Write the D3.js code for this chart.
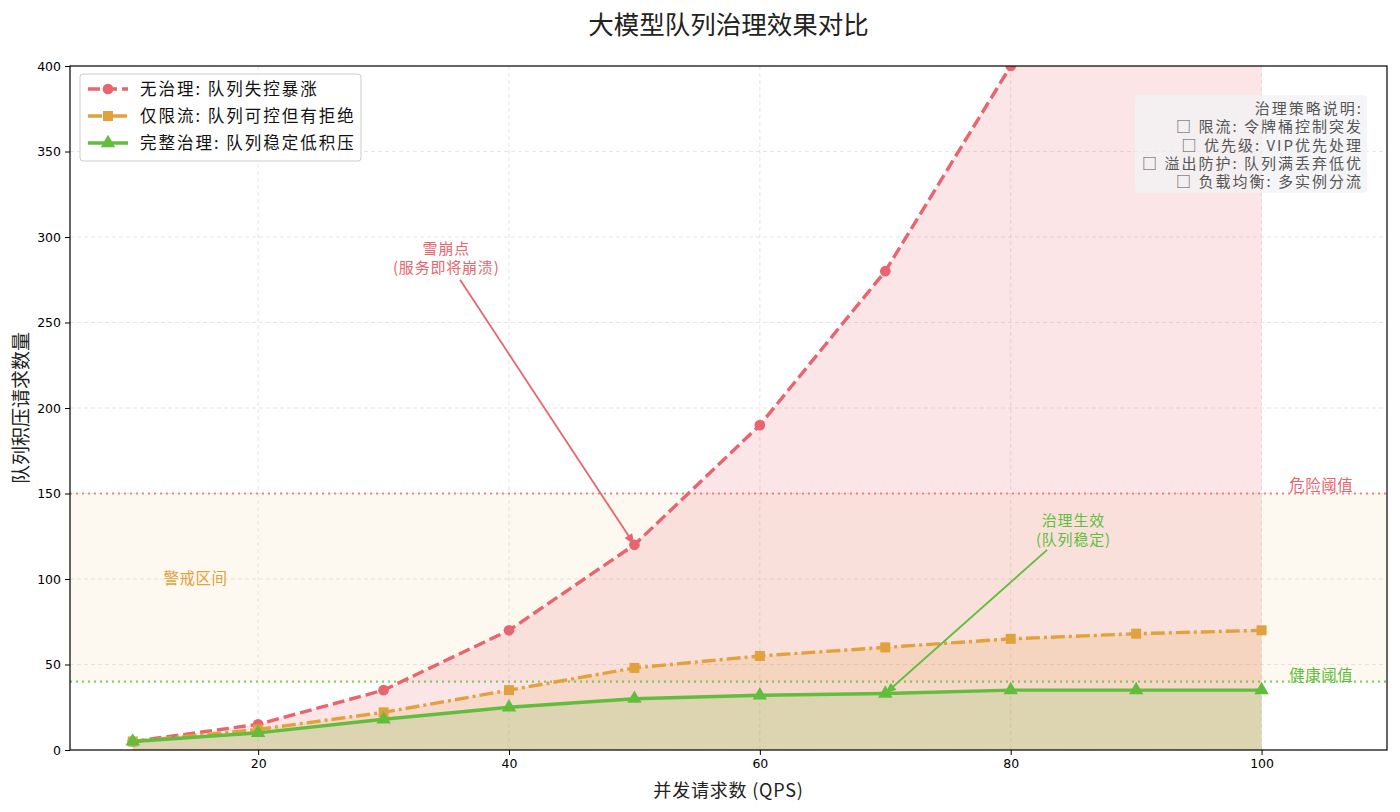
<!DOCTYPE html>
<html>
<head>
<meta charset="utf-8">
<script src="https://cdn.jsdelivr.net/npm/d3@7"></script>
<style>
  body { margin: 0; background: #fff; }
  text { font-family: "Noto Sans CJK SC", "DejaVu Sans", sans-serif; }
</style>
</head>
<body>
<script>
(function () {
    "use strict";

    // data
    var qps = [10, 20, 30, 40, 50, 60, 70, 80, 90, 100];
    var noGovern = [5, 15, 35, 70, 120, 190, 280, 400, 550, 750];
    var rateLimitOnly = [5, 12, 22, 35, 48, 55, 60, 65, 68, 70];
    var fullGovern = [5, 10, 18, 25, 30, 32, 33, 35, 35, 35];
    var xTicks = [20, 40, 60, 80, 100];
    var yTicks = [0, 50, 100, 150, 200, 250, 300, 350, 400];
    var seriesNames = ["无治理: 队列失控暴涨", "仅限流: 队列可控但有拒绝", "完整治理: 队列稳定低积压"];
    var dangerLevel = 150;
    var healthyLevel = 40;
    var strategyLines = ["治理策略说明:", "□ 限流: 令牌桶控制突发", "□ 优先级: VIP优先处理",
        "□ 溢出防护: 队列满丢弃低优", "□ 负载均衡: 多实例分流"];

    var red = "#e8646f", orange = "#e2a13c", green = "#62bd3c";

    var W = 1400, H = 812;
    var margin = {top: 66, right: 13, bottom: 62, left: 70};
    var width = W - margin.left - margin.right;
    var height = H - margin.top - margin.bottom;

    var svg = d3.select("body").append("svg")
        .attr("width", W).attr("height", H);

    svg.append("defs").append("clipPath").attr("id", "clipBox")
        .append("rect").attr("width", width).attr("height", height);

    var x = d3.scaleLinear().domain([5, 110]).range([0, width]);
    var y = d3.scaleLinear().domain([0, 400]).range([height, 0]);

    var g = svg.append("g")
        .attr("transform", "translate(" + margin.left + "," + margin.top + ")");
    var clipped = g.append("g").attr("clip-path", "url(#clipBox)");

    // warning zone
    clipped.append("rect")
        .attr("x", 0).attr("width", width)
        .attr("y", y(dangerLevel)).attr("height", y(healthyLevel) - y(dangerLevel))
        .attr("fill", "#f9edd6").attr("opacity", 0.35);

    // grid
    clipped.selectAll(".gx").data(xTicks).enter().append("line")
        .attr("x1", function (d) { return x(d); }).attr("x2", function (d) { return x(d); })
        .attr("y1", 0).attr("y2", height)
        .attr("stroke", "#ccc").attr("stroke-width", 0.8).attr("stroke-dasharray", "4,3")
        .attr("opacity", 0.6);
    clipped.selectAll(".gy").data(yTicks).enter().append("line")
        .attr("y1", function (d) { return y(d); }).attr("y2", function (d) { return y(d); })
        .attr("x1", 0).attr("x2", width)
        .attr("stroke", "#ccc").attr("stroke-width", 0.8).attr("stroke-dasharray", "4,3")
        .attr("opacity", 0.6);

    var series = [
        {vals: noGovern, color: red, dash: "12,5", marker: "circle"},
        {vals: rateLimitOnly, color: orange, dash: "14,4,3,4", marker: "square"},
        {vals: fullGovern, color: green, dash: null, marker: "triangle"}
    ];

    var area = d3.area()
        .x(function (d, i) { return x(qps[i]); })
        .y0(y(0))
        .y1(function (d) { return y(d); });
    var line = d3.line()
        .x(function (d, i) { return x(qps[i]); })
        .y(function (d) { return y(d); });

    series.forEach(function (s) {
        clipped.append("path").attr("d", area(s.vals))
            .attr("fill", s.color).attr("opacity", 0.17);
    });

    // thresholds
    [[dangerLevel, red], [healthyLevel, green]].forEach(function (t) {
        clipped.append("line")
            .attr("x1", 0).attr("x2", width)
            .attr("y1", y(t[0])).attr("y2", y(t[0]))
            .attr("stroke", t[1]).attr("stroke-width", 2.2)
            .attr("stroke-dasharray", "2,4").attr("opacity", 0.75);
    });

    var markerSymbol = {
        circle: d3.symbol().type(d3.symbolCircle).size(90),
        square: d3.symbol().type(d3.symbolSquare).size(100),
        triangle: d3.symbol().type(d3.symbolTriangle).size(90)
    };

    series.forEach(function (s) {
        clipped.append("path").attr("d", line(s.vals))
            .attr("fill", "none").attr("stroke", s.color)
            .attr("stroke-width", 3.4)
            .attr("stroke-dasharray", s.dash);
        clipped.selectAll(null).data(s.vals).enter().append("path")
            .attr("d", markerSymbol[s.marker])
            .attr("transform", function (d, i) {
                return "translate(" + x(qps[i]) + "," + y(d) + ")";
            })
            .attr("fill", s.color);
    });

    // text labels in plot
    g.append("text").attr("x", x(15)).attr("y", y(100)).attr("dy", "0.35em")
        .attr("text-anchor", "middle").attr("fill", orange).attr("font-size", 15.5)
        .attr("letter-spacing", 0.5).text("警戒区间");
    g.append("text").attr("x", x(104.75)).attr("y", y(dangerLevel) - 3)
        .attr("text-anchor", "middle").attr("fill", red).attr("font-size", 15.5)
        .attr("letter-spacing", 0.5).text("危险阈值");
    g.append("text").attr("x", x(104.75)).attr("y", y(healthyLevel) - 1)
        .attr("text-anchor", "middle").attr("fill", green).attr("font-size", 15.5)
        .attr("letter-spacing", 0.5).text("健康阈值");

    // annotations
    function annotate(lines, tx, ty, px, py, color, arrowStart) {
        var t = g.append("text").attr("text-anchor", "middle")
            .attr("fill", color).attr("font-size", 15).attr("letter-spacing", 0.8);
        lines.forEach(function (l, i) {
            t.append("tspan").attr("x", x(tx)).attr("y", y(ty) + i * 19).text(l);
        });
        var x0 = x(arrowStart[0]), y0 = y(arrowStart[1]);
        var x1 = x(px), y1 = y(py);
        var ang = Math.atan2(y1 - y0, x1 - x0);
        g.append("line").attr("x1", x0).attr("y1", y0)
            .attr("x2", x1 - 8 * Math.cos(ang)).attr("y2", y1 - 8 * Math.sin(ang))
            .attr("stroke", color).attr("stroke-width", 1.8);
        var hl = 11, hw = 4.5;
        var bx = x1 - hl * Math.cos(ang), by = y1 - hl * Math.sin(ang);
        g.append("path")
            .attr("d", "M" + x1 + "," + y1 +
                "L" + (bx + hw * Math.sin(ang)) + "," + (by - hw * Math.cos(ang)) +
                "L" + (bx - hw * Math.sin(ang)) + "," + (by + hw * Math.cos(ang)) + "Z")
            .attr("fill", color);
    }
    annotate(["雪崩点", "(服务即将崩溃)"], 35, 290, 50, 120, red, [36.1, 275]);
    annotate(["治理生效", "(队列稳定)"], 85, 131, 70, 33, green, [82.9, 117]);

    // axes
    var xAxis = g.append("g").attr("transform", "translate(0," + height + ")")
        .call(d3.axisBottom(x).tickValues(xTicks).tickSize(5).tickPadding(4));
    var yAxis = g.append("g")
        .call(d3.axisLeft(y).tickValues(yTicks).tickSize(5).tickPadding(4));
    [xAxis, yAxis].forEach(function (a) {
        a.select(".domain").remove();
        a.selectAll("text").attr("font-size", 12.5).attr("fill", "#000")
            .style("font-family", "'DejaVu Sans', sans-serif");
        a.selectAll("line").attr("stroke", "#000");
    });

    g.append("rect").attr("width", width).attr("height", height)
        .attr("fill", "none").attr("stroke", "#000").attr("stroke-width", 1.2);

    // strategy text box
    var boxRight = width - 26, boxTop = 29;
    g.append("rect").attr("x", boxRight - 226).attr("y", boxTop).attr("width", 232).attr("height", 98)
        .attr("rx", 4).attr("fill", "#f2f2f4").attr("opacity", 0.75);
    var st = g.append("text").attr("text-anchor", "end").attr("fill", "#555")
        .attr("font-size", 15).attr("letter-spacing", 2);
    strategyLines.forEach(function (l, i) {
        st.append("tspan").attr("x", boxRight + 2).attr("y", boxTop + 19 + i * 18.3).text(l);
    });

    // legend
    var lg = g.append("g").attr("transform", "translate(10,8)");
    lg.append("rect").attr("width", 281).attr("height", 87).attr("rx", 3)
        .attr("fill", "#fff").attr("fill-opacity", 0.85)
        .attr("stroke", "#ccc");
    series.forEach(function (s, i) {
        var ry = 15 + i * 27;
        lg.append("line").attr("x1", 8).attr("x2", 48).attr("y1", ry).attr("y2", ry)
            .attr("stroke", s.color).attr("stroke-width", 3.4)
            .attr("stroke-dasharray", s.dash);
        lg.append("path").attr("d", markerSymbol[s.marker])
            .attr("transform", "translate(28," + ry + ")").attr("fill", s.color);
        lg.append("text").attr("x", 60).attr("y", ry).attr("dy", "0.35em")
            .attr("font-size", 16.5).attr("letter-spacing", 2)
            .attr("fill", "#111").text(seriesNames[i]);
    });

    // titles
    svg.append("text").attr("x", margin.left + width / 2).attr("y", 34)
        .attr("text-anchor", "middle").attr("font-size", 25.5).attr("fill", "#222")
        .text("大模型队列治理效果对比");
    svg.append("text").attr("x", margin.left + width / 2).attr("y", 797)
        .attr("text-anchor", "middle").attr("font-size", 18).attr("fill", "#222")
        .attr("letter-spacing", 0.8).text("并发请求数 (QPS)");
    svg.append("text").attr("transform", "translate(28," + (margin.top + height / 2) + ") rotate(-90)")
        .attr("text-anchor", "middle").attr("font-size", 19).attr("fill", "#222")
        .text("队列积压请求数量");
})();
</script>
</body>
</html>
